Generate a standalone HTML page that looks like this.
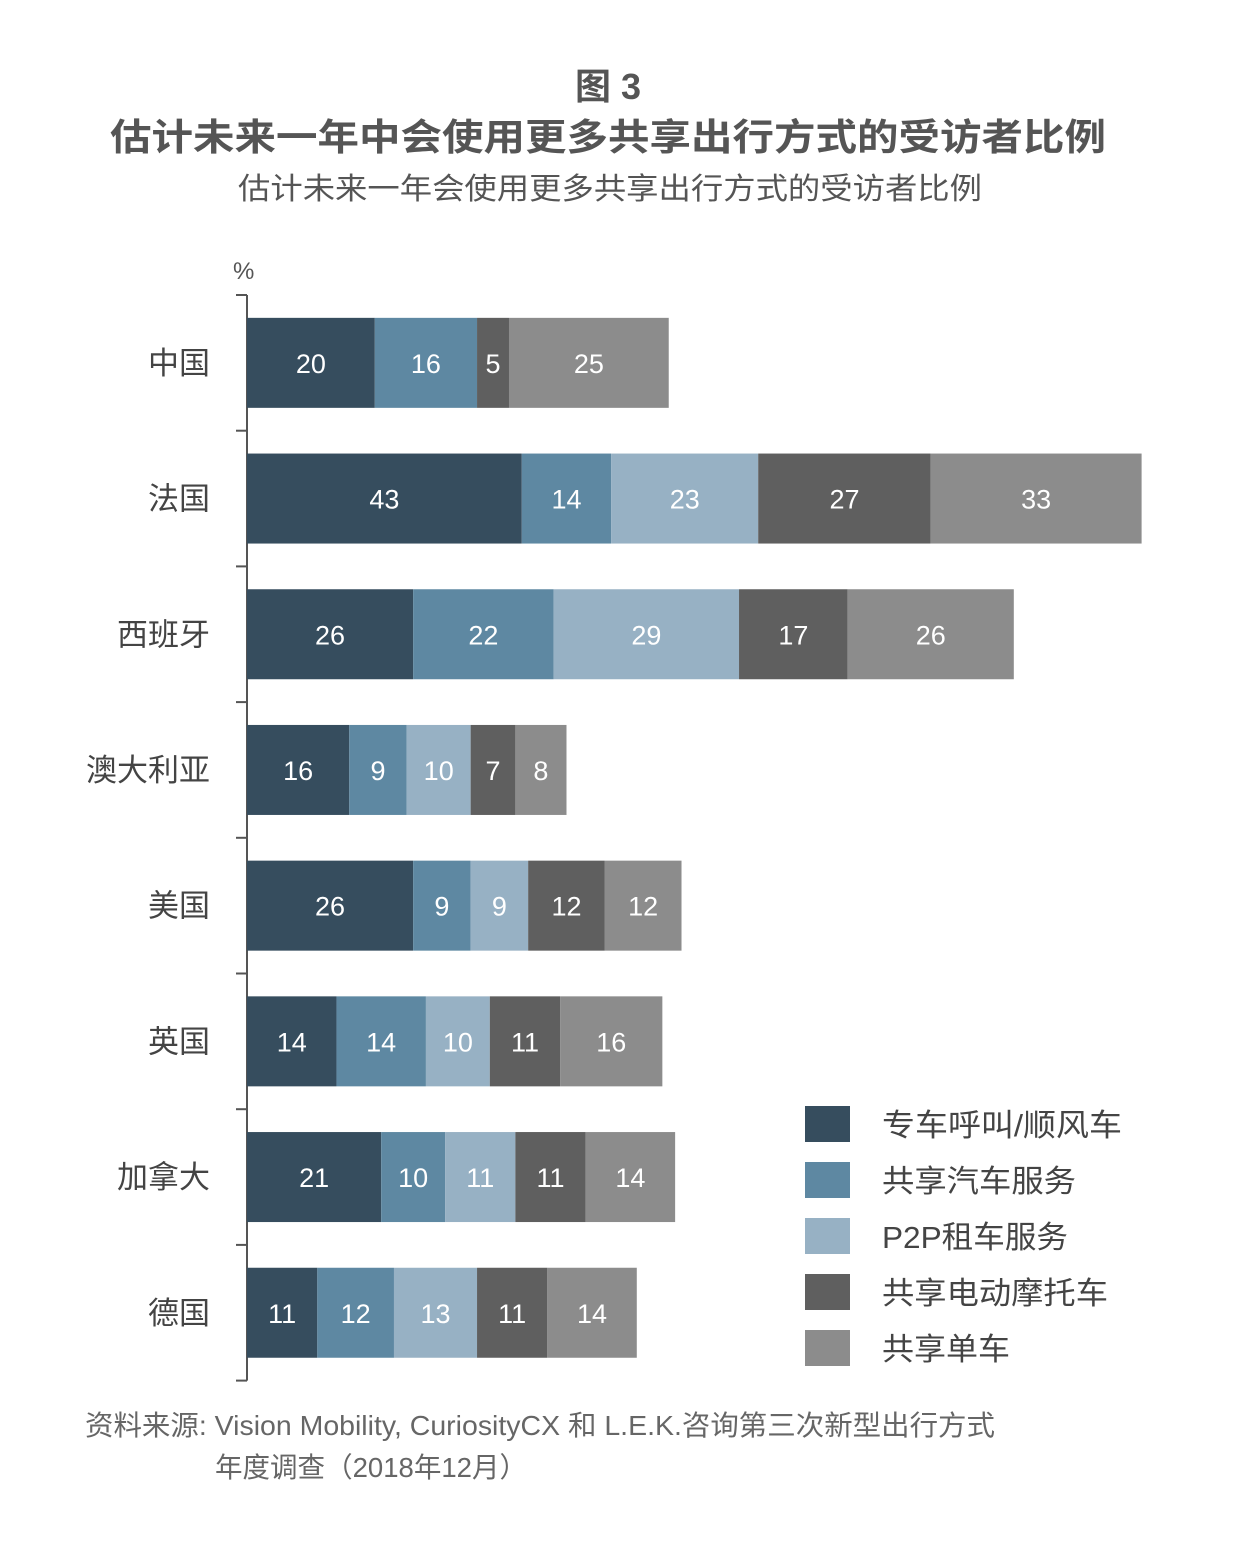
<!DOCTYPE html>
<html><head><meta charset="utf-8">
<style>
html,body{margin:0;padding:0;background:#fff;}
svg{display:block;font-family:"Liberation Sans","Noto Sans CJK SC",sans-serif;}
</style></head>
<body>
<svg id="chart" width="1253" height="1545" viewBox="0 0 1253 1545" xmlns="http://www.w3.org/2000/svg">
<text x="608" y="99" text-anchor="middle" font-size="36" font-weight="bold" fill="#555">图 3</text>
<text x="608" y="150" text-anchor="middle" font-size="37" font-weight="bold" fill="#555" textLength="996" lengthAdjust="spacingAndGlyphs">估计未来一年中会使用更多共享出行方式的受访者比例</text>
<text x="610" y="199" text-anchor="middle" font-size="30" fill="#555" textLength="744" lengthAdjust="spacingAndGlyphs">估计未来一年会使用更多共享出行方式的受访者比例</text>
<text x="233" y="279" font-size="24" fill="#555">%</text>
<g id="axis"></g>
<g id="bars"></g>
<g id="legend"></g>
<text x="85" y="1435" font-size="28" fill="#666" textLength="910" lengthAdjust="spacingAndGlyphs">资料来源: Vision Mobility, CuriosityCX 和 L.E.K.咨询第三次新型出行方式</text>
<text x="215" y="1477" font-size="28" fill="#666" textLength="312" lengthAdjust="spacingAndGlyphs">年度调查（2018年12月）</text>
</svg>
<script>
const categories = ["中国","法国","西班牙","澳大利亚","美国","英国","加拿大","德国"];
const seriesNames = ["专车呼叫/顺风车","共享汽车服务","P2P租车服务","共享电动摩托车","共享单车"];
const rideHailing = [20,43,26,16,26,14,21,11];
const carSharing = [16,14,22,9,9,14,10,12];
const p2pRental = [0,23,29,10,9,10,11,13];
const eScooter = [5,27,17,7,12,11,11,11];
const bikeSharing = [25,33,26,8,12,16,14,14];
const series = [rideHailing,carSharing,p2pRental,eScooter,bikeSharing];
const colors = ["#364d5e","#5e88a2","#97b1c4","#5f5f5f","#8c8c8c"];
const NS = "http://www.w3.org/2000/svg";
const x0 = 247, pxPerUnit = 6.39;
const xScale = v => x0 + v * pxPerUnit;
const rowTop = 295, rowH = 135.7, barH = 90;
const yBand = i => rowTop + i * rowH;
function mk(tag, attrs, parent){const e=document.createElementNS(NS,tag);for(const k in attrs)e.setAttribute(k,attrs[k]);parent.appendChild(e);return e;}
const axis = document.getElementById('axis');
const bars = document.getElementById('bars');
const legend = document.getElementById('legend');
const axisLine = mk('line',{x1:x0,x2:x0,y1:rowTop,y2:yBand(categories.length),stroke:'#555','stroke-width':2},axis);


for(let i=0;i<=categories.length;i++){
  const t = mk('line',{x1:x0-11,x2:x0,y1:yBand(i),y2:yBand(i),stroke:'#555','stroke-width':2},axis);
  
  
}
categories.forEach((c,i)=>{
  const yc = yBand(i) + rowH/2;
  const lab = mk('text',{x:210,y:yc+11,'text-anchor':'end','font-size':31,fill:'#444'},axis);
  lab.textContent = c;
  
  
  let acc = 0;
  series.forEach((s,j)=>{
    const v = s[i];
    if(!v) return;
    const r = mk('rect',{x:xScale(acc),y:yc-barH/2,width:xScale(acc+v)-xScale(acc),height:barH,fill:colors[j]},bars);
    
    
    const t = mk('text',{x:(xScale(acc)+xScale(acc+v))/2,y:yc+10,'text-anchor':'middle','font-size':27,fill:'#fff'},bars);
    t.textContent = v;
    
    
    acc += v;
  });
});
const legendWidths = [240,194,186,226,128];
seriesNames.forEach((n,j)=>{
  const y = 1106 + j*56;
  const sw = mk('rect',{x:805,y:y,width:45,height:36,fill:colors[j]},legend);
  
  
  const t = mk('text',{x:882,y:y+30,'font-size':31,fill:'#444',textLength:legendWidths[j],lengthAdjust:'spacingAndGlyphs'},legend);
  t.textContent = n;
  
  
});
</script>
</body></html>
